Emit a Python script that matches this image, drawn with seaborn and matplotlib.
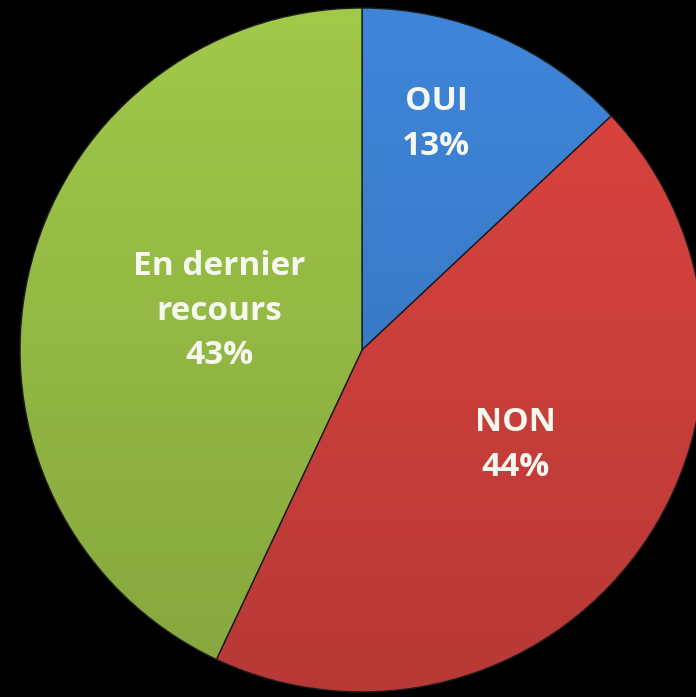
import matplotlib
matplotlib.use("Agg")
import matplotlib.pyplot as plt
import seaborn as sns
import numpy as np

categories = ["OUI", "NON", "En dernier\nrecours"]
values = [13, 44, 43]
colors = ["#3F86DA", "#DE4541", "#A1C94A"]

sns.set_style("white")
plt.rcParams["font.family"] = ["Open Sans", "DejaVu Sans"]

fig = plt.figure(figsize=(6.96, 6.97), dpi=100, facecolor="black")
ax = fig.add_axes([0, 0, 1, 1])
ax.set_facecolor("black")

R = 342.0
cx, cy = 362.0, 697 - 350.0
wedges, _ = ax.pie(values, colors=sns.color_palette(colors), startangle=90,
                   counterclock=False, radius=1.0,
                   wedgeprops=dict(edgecolor="#1e1e1e", linewidth=1.0))

# vertical shading: transparent at top, darker at bottom
a = np.linspace(0.0, 0.18, 256)
shade = np.zeros((256, 1, 4))
shade[:, 0, 3] = a
for w in wedges:
    im = ax.imshow(shade, extent=[-1.1, 1.1, -1.05, 1.05], origin="upper",
                   zorder=2, aspect="auto")
    im.set_clip_path(w)

ax.set_xlim(-cx / R, (696 - cx) / R)
ax.set_ylim(-cy / R, (697 - cy) / R)
ax.set_aspect("equal")
ax.axis("off")

def px(x, y):
    return ((x - cx) / R, ((697 - y) - cy) / R)

label_pos = [(436, 124), (515, 445), (219, 311)]
for cat, v, (x, y) in zip(categories, values, label_pos):
    tx, ty = px(x, y)
    ax.text(tx, ty, f"{cat}\n{v}%", ha="center", va="center", color="#F4F8EE",
            fontsize=24, fontweight="bold", linespacing=1.45, zorder=5)

fig.savefig("out.png", dpi=100, facecolor="black")
